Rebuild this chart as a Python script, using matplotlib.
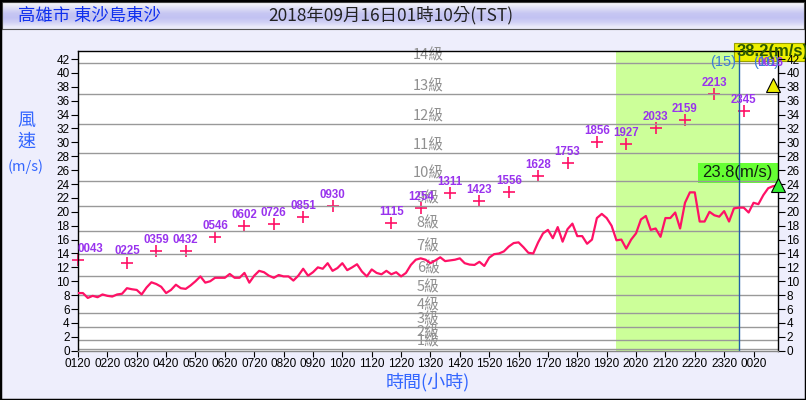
import numpy as np
import matplotlib
matplotlib.use('Agg')
import matplotlib.pyplot as plt
from matplotlib.patches import Rectangle
from matplotlib.transforms import IdentityTransform

plt.rcParams['font.family'] = ['Liberation Sans', 'Noto Sans CJK TC', 'DejaVu Sans']
CJK = ['Noto Sans CJK TC', 'DejaVu Sans']

# 10 minute mean wind, 01:20 (15th) .. 01:10 (16th)
start_hour = 1 + 20 / 60.0
mean_speed = [
    8.3, 8.3, 7.6, 7.9, 7.7, 8.1, 7.9, 7.8, 8.1, 8.2,
    9.0, 8.85, 8.75, 8.1, 9.1, 9.85, 9.6, 9.2, 8.3, 8.75,
    9.5, 9.0, 8.9, 9.4, 10.0, 10.7, 9.8, 10.0, 10.5, 10.5,
    10.5, 11.05, 10.5, 10.5, 11.2, 9.8, 10.8, 11.5, 11.3, 10.8,
    10.5, 10.9, 10.7, 10.7, 10.1, 10.8, 11.8, 10.8, 11.3, 12.0,
    11.8, 12.6, 11.5, 11.9, 12.6, 11.6, 12.0, 12.45, 11.4, 10.7,
    11.7, 11.2, 11.0, 11.5, 11.0, 11.3, 10.7, 11.2, 12.35, 13.1,
    13.3, 13.1, 12.6, 13.0, 13.45, 12.9, 13.0, 13.1, 13.3, 12.6,
    12.4, 12.35, 12.8, 12.2, 13.4, 13.9, 14.0, 14.3, 15.0, 15.5,
    15.6, 14.9, 14.1, 14.0, 15.6, 16.9, 17.4, 16.2, 17.8, 15.7,
    17.5, 18.3, 16.5, 16.5, 15.4, 16.0, 19.1, 19.7, 19.1, 18.0,
    15.9, 16.0, 14.7, 16.0, 16.9, 18.9, 19.4, 17.4, 17.6, 16.4,
    19.1, 19.1, 19.9, 17.6, 21.3, 22.8, 22.8, 18.6, 18.6, 20.0,
    19.5, 19.3, 20.1, 18.6, 20.5, 20.6, 20.6, 19.9, 21.3, 21.1,
    22.4, 23.4, 23.7, 23.8,
]

# hourly gusts (plotted at the end of the hour)
gust_hour = [1, 3, 4, 5, 6, 7, 8, 9, 10, 12, 13, 14, 15, 16, 17, 18, 19, 20, 21, 22, 23, 24]
gust_val = [13.1, 12.7, 14.3, 14.4, 16.4, 17.9, 18.2, 19.2, 20.8, 18.4, 20.5,
            22.7, 21.6, 22.9, 25.2, 27.0, 30.0, 29.8, 32.1, 33.2, 37.0, 34.5]
gust_time = ['0043', '0225', '0359', '0432', '0546', '0602', '0726', '0851', '0930',
             '1115', '1254', '1311', '1423', '1556', '1628', '1753', '1856', '1927',
             '2033', '2159', '2213', '2345']
max_gust_hour, max_gust_val, max_gust_time = 25, 38.2, '0016'
now_val = 23.8

beaufort_low = [0.3, 1.6, 3.4, 5.5, 8.0, 10.8, 13.9, 17.2, 20.8, 24.5, 28.5, 32.7, 37.0, 41.5]
warn_start, day_line = 19 + 40 / 60.0, 23 + 50 / 60.0

t = start_hour + np.arange(len(mean_speed)) / 6.0
t_end = t[-1]

fig = plt.figure(figsize=(8.06, 4.0), dpi=100, facecolor='#eeeefc')
H = 400.0
W = 806.0
ax = fig.add_axes([78 / W, (H - 350.7) / H, 700 / W, 300 / H])
ax.set_xlim(start_hour, t_end)
ax.set_ylim(0, 43.2)

# header bar with gradient
bar = fig.add_axes([2 / W, (H - 29) / H, 802 / W, 27 / H])
grad = np.array([[0.95, 0.95, 0.98], [0.86, 0.86, 0.96], [0.78, 0.78, 0.95],
                 [0.76, 0.76, 0.95], [0.82, 0.82, 0.96], [0.92, 0.92, 0.98]])
bar.imshow(grad[:, None, :], aspect='auto', interpolation='bilinear', extent=[0, 1, 0, 1])
bar.set_xlim(0, 1)
bar.set_ylim(0, 1)
bar.set_xticks([])
bar.set_yticks([])
for s in bar.spines.values():
    s.set_color('#555555')
bar.text(0.02, 0.5, '高雄市 東沙島東沙', color='#1030ee', fontsize=12.5, family=CJK,
         va='center', ha='left', transform=bar.transAxes)
bar.text(0.332, 0.5, '2018年09月16日01時10分(TST)', color='#222222', fontsize=12.5,
         family=CJK, va='center', ha='left', transform=bar.transAxes)

fig.patches.append(Rectangle((0, 0), 1, 1, transform=fig.transFigure, fill=False,
                             ec='black', lw=2.5))

ax.axvspan(warn_start, day_line, color='#ccff99', zorder=0, lw=0)

# value boxes (pixel coords)
pix = IdentityTransform()
ax.add_patch(Rectangle((734, H - 60.7), 80, 18, transform=pix, fc='#eef000', ec='#99a000',
                       lw=0.8, zorder=0.6, clip_on=False))
ax.add_patch(Rectangle((698, H - 183.3), 80, 20.6, transform=pix, fc='#66ff33', ec='none',
                       zorder=0.6, clip_on=False))

# gust markers
gx = [max(h, start_hour) for h in gust_hour]
ax.plot(gx, gust_val, ls='none', marker='+', ms=9, mew=1.2, color='#ff1166', zorder=1,
        clip_on=False)

for y in beaufort_low:
    ax.axhline(y, color='#999999', lw=1, zorder=2)
ax.axvline(day_line, color='#1f5fa8', lw=1, zorder=2.5)

for n, y in enumerate(beaufort_low, 1):
    ax.text(13.25, y + 0.05, '%d級' % n, color='#909090', fontsize=10.5, family=CJK,
            ha='center', va='bottom', zorder=2.2)

ax.plot(t, mean_speed, color='#ff1166', lw=1.6, zorder=3)

for x, y, s in zip(gx, gust_val, gust_time):
    ha = 'left' if x == start_hour else 'center'
    ax.annotate(s, (x, y), xytext=(0, 8), textcoords='offset points', ha=ha, va='center',
                color='#9933ee', fontsize=8.3, fontweight='bold', zorder=4)

ax.plot([max_gust_hour], [max_gust_val], marker='^', ms=10, color='#eeee00', mec='black',
        mew=0.8, clip_on=False, zorder=5)
ax.annotate(max_gust_time, (max_gust_hour, max_gust_val), xytext=(-2, 16),
            textcoords='offset points', ha='center', va='center', color='#9933ee',
            fontsize=8.3, fontweight='bold', zorder=4)
ax.plot([t_end], [now_val], marker='^', ms=10, color='#33ee33', mec='black', mew=0.8,
        clip_on=False, zorder=5)

fig.text(737 / W, (H - 51.5) / H, '%.1f(m/s)' % max_gust_val, color='#2d5a00',
         fontsize=12, fontweight='bold', va='center', ha='left', zorder=6)
fig.text(702 / W, (H - 173) / H, '%.1f(m/s)' % now_val, color='#112211',
         fontsize=12, va='center', ha='left', zorder=6)

ax.annotate('(15)', (day_line, 41.6), xytext=(-2, 0), textcoords='offset points',
            ha='right', va='center', color='#3d7fd6', fontsize=10.5, zorder=5)
ax.annotate('(16)', (day_line, 41.6), xytext=(10, 0), textcoords='offset points',
            ha='left', va='center', color='#3d7fd6', fontsize=10.5, zorder=5)

ticks = start_hour + np.arange(24)
ax.set_xticks(ticks)
ax.set_xticklabels(['%02d20' % ((1 + k) % 24) for k in range(24)])
ax.set_yticks(range(0, 43, 2))
ax.yaxis.set_ticks_position('both')
ax.tick_params(axis='y', direction='out', length=5, labelsize=8.5, labelright=True, pad=1)
ax.tick_params(axis='x', direction='out', length=4, labelsize=8.5, pad=1)
for s in ax.spines.values():
    s.set_color('black')
    s.set_linewidth(1)
ax.spines['bottom'].set_color('#888888')

fig.text(26 / W, (H - 121) / H, '風', color='#3366ff', fontsize=13, family=CJK,
         ha='center', va='center')
fig.text(26 / W, (H - 142) / H, '速', color='#3366ff', fontsize=13, family=CJK,
         ha='center', va='center')
fig.text(26 / W, (H - 167) / H, '(m/s)', color='#3366ff', fontsize=10.5, family=CJK,
         ha='center', va='center')
fig.text(428 / W, (H - 382) / H, '時間(小時)', color='#3366ff', fontsize=13, family=CJK,
         ha='center', va='center')

fig.savefig('out.png', dpi=100, facecolor=fig.get_facecolor())
